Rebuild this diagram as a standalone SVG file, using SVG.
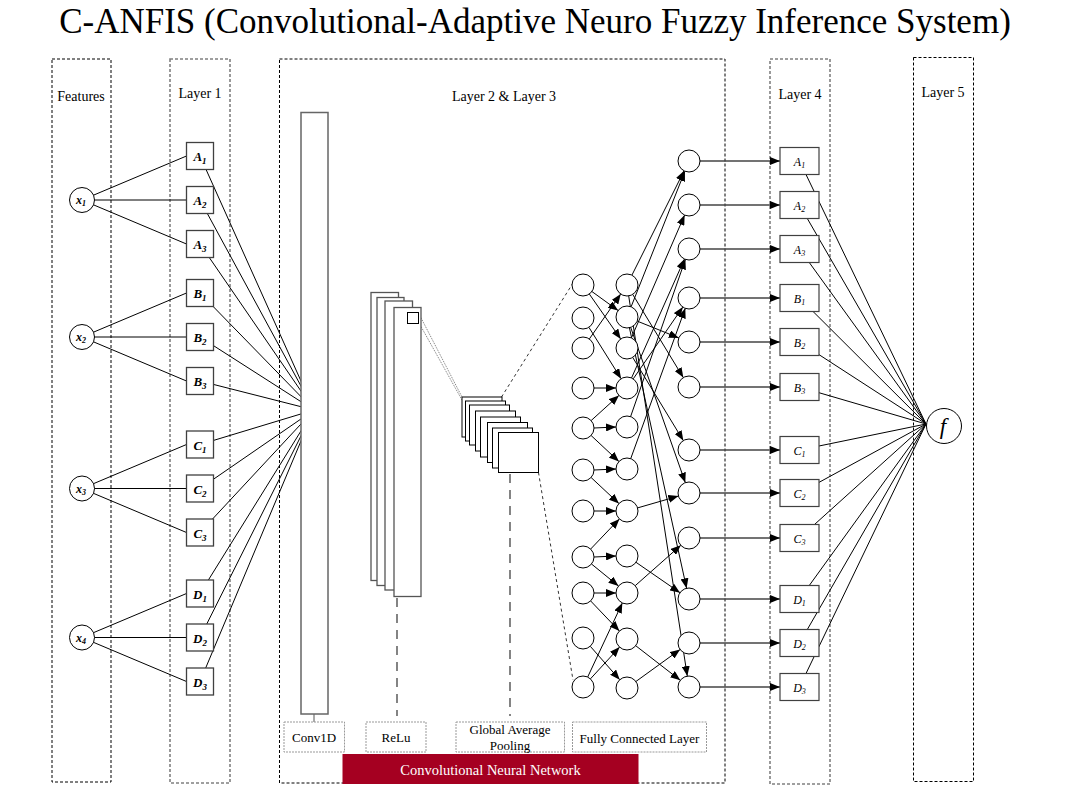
<svg xmlns="http://www.w3.org/2000/svg" width="1071" height="785" viewBox="0 0 1071 785">
<style>
.t{font-family:"Liberation Serif","Times New Roman",serif;fill:#000}
.db{fill:none;stroke:#000;stroke-width:1;stroke-dasharray:3 2}
.dg{fill:none;stroke:#808080;stroke-width:1.6;stroke-dasharray:3 2}
.bx{fill:#fff;stroke:#404040;stroke-width:1.3}
.bx4{fill:#fff;stroke:#404040;stroke-width:1.2}
.c{fill:#fff;stroke:#000;stroke-width:1}
.ln{stroke:#000;stroke-width:1;fill:none}
.ar{stroke:#000;stroke-width:1;fill:none;marker-end:url(#ah)}
.ar4{stroke:#444;stroke-width:1.3;fill:none;marker-end:url(#ah)}
.lb{fill:#fff;stroke:#999;stroke-width:1;stroke-dasharray:2 1}
.n1{font-family:"Liberation Serif","Times New Roman",serif;font-size:13px;font-weight:bold;font-style:italic;text-anchor:middle}
.n4{font-family:"Liberation Serif","Times New Roman",serif;font-size:12px;font-style:italic;text-anchor:middle}
.sb{font-size:9px}
.sb4{font-size:8px}
</style>
<defs>
<marker id="ah" markerWidth="10" markerHeight="8" refX="10" refY="4" orient="auto" markerUnits="userSpaceOnUse"><path d="M0,0 L10,4 L0,8 z" fill="#000"/></marker>
</defs>
<rect width="1071" height="785" fill="#fff"/>
<text class="t" x="535" y="33" font-size="35" text-anchor="middle">C-ANFIS (Convolutional-Adaptive Neuro Fuzzy Inference System)</text>

<g id="layer-frames">
<rect class="db" x="52" y="59" width="59" height="723"/>
<rect class="dg" x="170" y="59" width="60" height="724"/>
<rect class="db" x="279.5" y="59" width="445.5" height="724"/>
<rect class="dg" x="770" y="59" width="60" height="725"/>
<rect class="db" x="913.5" y="57.5" width="60" height="724"/>
<text class="t" x="81" y="101" font-size="14" text-anchor="middle">Features</text>
<text class="t" x="200" y="98" font-size="14" text-anchor="middle">Layer 1</text>
<text class="t" x="504" y="101" font-size="14" text-anchor="middle">Layer 2 &amp; Layer 3</text>
<text class="t" x="800" y="99" font-size="14" text-anchor="middle">Layer 4</text>
<text class="t" x="943" y="97" font-size="14" text-anchor="middle">Layer 5</text>
</g>

<g id="connectors">
<!-- features to layer 1 -->
<path class="ln" d="M82,200 L186.5,156 M82,200 L186.5,200 M82,200 L186.5,244"/>
<path class="ln" d="M82,337 L186.5,293 M82,337 L186.5,337 M82,337 L186.5,381"/>
<path class="ln" d="M82,488.5 L186.5,444.5 M82,488.5 L186.5,488.5 M82,488.5 L186.5,532.5"/>
<path class="ln" d="M82,637.5 L186.5,593.5 M82,637.5 L186.5,637.5 M82,637.5 L186.5,681.5"/>
<!-- layer 1 to conv1d -->
<path class="ln" d="M200,156 L314,410 M200,200 L314,410 M200,244 L314,410 M200,293 L314,410 M200,337 L314,410 M200,381 L314,410 M200,444.5 L314,410 M200,488.5 L314,410 M200,532.5 L314,410 M200,593.5 L314,410 M200,637.5 L314,410 M200,681.5 L314,410"/>
<!-- cnn links -->
<line x1="314" y1="714" x2="314" y2="722" stroke="#555" stroke-width="1"/>
<line x1="397" y1="598" x2="397" y2="716" stroke="#333" stroke-width="1.2" stroke-dasharray="9 7"/>
<line x1="510" y1="474" x2="510" y2="716" stroke="#333" stroke-width="1.2" stroke-dasharray="9 7"/>
<line x1="418.5" y1="313" x2="462" y2="397" stroke="#777" stroke-width="1" stroke-dasharray="1 1"/>
<line x1="418.5" y1="322" x2="462" y2="400" stroke="#777" stroke-width="1" stroke-dasharray="1 1"/>
<line x1="501.5" y1="397" x2="573" y2="283" stroke="#333" stroke-width="1" stroke-dasharray="3 3"/>
<line x1="538.5" y1="472.5" x2="573" y2="680" stroke="#333" stroke-width="1" stroke-dasharray="3 3"/>
<!-- col1 to col2 -->
<line class="ar" x1="591.9" y1="291.5" x2="618.1" y2="310.5"/>
<line class="ar" x1="589.3" y1="294" x2="620.7" y2="339"/>
<line class="ar" x1="589.3" y1="339" x2="620.7" y2="294"/>
<line class="ar" x1="588.9" y1="327.3" x2="621.1" y2="378.7"/>
<line class="ar" x1="594" y1="388" x2="616" y2="388"/>
<line class="ar" x1="591.1" y1="420.6" x2="618.9" y2="395.4"/>
<line class="ar" x1="594" y1="428" x2="616" y2="427"/>
<line class="ar" x1="591.1" y1="435.5" x2="618.9" y2="461.5"/>
<line class="ar" x1="594" y1="470" x2="616" y2="469"/>
<line class="ar" x1="591.1" y1="477.5" x2="618.9" y2="503.5"/>
<line class="ar" x1="594" y1="511" x2="616" y2="511"/>
<line class="ar" x1="590.6" y1="549.1" x2="619.4" y2="518.9"/>
<line class="ar" x1="594" y1="557" x2="616" y2="556"/>
<line class="ar" x1="591.5" y1="564" x2="618.5" y2="586"/>
<line class="ar" x1="594" y1="593" x2="616" y2="593"/>
<line class="ar" x1="590.6" y1="600.9" x2="619.4" y2="631.1"/>
<line class="ar" x1="590.3" y1="646.3" x2="619.7" y2="679.7"/>
<line class="ar" x1="587.7" y1="677" x2="622.3" y2="603"/>
<line class="ar" x1="590.4" y1="678.9" x2="619.6" y2="647.1"/>
<!-- col2 to col3 -->
<line class="ar" x1="631.9" y1="275.2" x2="684.1" y2="170.8"/>
<line class="ar" x1="631.1" y1="306.8" x2="684.9" y2="171.2"/>
<line class="ar" x1="631.4" y1="337.9" x2="684.6" y2="215.1"/>
<line class="ar" x1="631.5" y1="378" x2="684.5" y2="259"/>
<line class="ar" x1="630.6" y1="416.6" x2="685.4" y2="259.4"/>
<line class="ar" x1="633.2" y1="378.9" x2="682.8" y2="307.1"/>
<line class="ar" x1="630.7" y1="458.7" x2="685.3" y2="308.3"/>
<line class="ar" x1="632.7" y1="294.4" x2="683.3" y2="377.6"/>
<line class="ar" x1="637.2" y1="321.1" x2="678.8" y2="337.9"/>
<line class="ar" x1="632.7" y1="357.4" x2="683.3" y2="440.6"/>
<line class="ar" x1="630.7" y1="327.4" x2="685.3" y2="482.6"/>
<line class="ar" x1="629.4" y1="327.7" x2="686.6" y2="588.3"/>
<line class="ar" x1="628.7" y1="295.9" x2="687.3" y2="676.1"/>
<line class="ar" x1="637.6" y1="507.9" x2="678.4" y2="496.1"/>
<line class="ar" x1="636" y1="562.3" x2="680" y2="592.7"/>
<line class="ar" x1="635.2" y1="585.7" x2="680.8" y2="545.3"/>
<line class="ar" x1="635.7" y1="645.7" x2="680.3" y2="680.3"/>
<line class="ar" x1="635.9" y1="681.5" x2="680.1" y2="649.5"/>
<!-- col3 to layer 4 -->
<line class="ar4" x1="700" y1="161" x2="780" y2="161"/>
<line class="ar4" x1="700" y1="205" x2="780" y2="205"/>
<line class="ar4" x1="700" y1="249" x2="780" y2="249"/>
<line class="ar4" x1="700" y1="298" x2="780" y2="298"/>
<line class="ar4" x1="700" y1="342" x2="780" y2="342"/>
<line class="ar4" x1="700" y1="387" x2="780" y2="387"/>
<line class="ar4" x1="700" y1="450" x2="780" y2="450"/>
<line class="ar4" x1="700" y1="493" x2="780" y2="493"/>
<line class="ar4" x1="700" y1="538" x2="780" y2="538"/>
<line class="ar4" x1="700" y1="599" x2="780" y2="599"/>
<line class="ar4" x1="700" y1="643" x2="780" y2="643"/>
<line class="ar4" x1="700" y1="687" x2="780" y2="687"/>
<!-- layer 4 to f -->
<path class="ln" d="M799.5,161 L926,424 M799.5,205 L926,424 M799.5,249 L926,424 M799.5,298 L926,424 M799.5,342 L926,424 M799.5,387 L926,424 M799.5,450 L926,424 M799.5,493 L926,424 M799.5,538 L926,424 M799.5,599 L926,424 M799.5,643 L926,424 M799.5,687 L926,424"/>
</g>

<g id="features">
<g id="x1"><circle class="c" cx="82" cy="200" r="12.5"/><text class="n4" x="81" y="204" font-weight="bold">x<tspan class="sb4" dy="2">1</tspan></text></g>
<g id="x2"><circle class="c" cx="82" cy="337" r="12.5"/><text class="n4" x="81" y="341" font-weight="bold">x<tspan class="sb4" dy="2">2</tspan></text></g>
<g id="x3"><circle class="c" cx="82" cy="488.5" r="12.5"/><text class="n4" x="81" y="492.5" font-weight="bold">x<tspan class="sb4" dy="2">3</tspan></text></g>
<g id="x4"><circle class="c" cx="82" cy="637.5" r="12.5"/><text class="n4" x="81" y="641.5" font-weight="bold">x<tspan class="sb4" dy="2">4</tspan></text></g>
</g>

<g id="layer1">
<g id="L1-A1"><rect class="bx" x="186.5" y="142.5" width="27" height="27"/><text class="n1" x="200" y="161">A<tspan class="sb" dy="3">1</tspan></text></g>
<g id="L1-A2"><rect class="bx" x="186.5" y="186.5" width="27" height="27"/><text class="n1" x="200" y="205">A<tspan class="sb" dy="3">2</tspan></text></g>
<g id="L1-A3"><rect class="bx" x="186.5" y="230.5" width="27" height="27"/><text class="n1" x="200" y="249">A<tspan class="sb" dy="3">3</tspan></text></g>
<g id="L1-B1"><rect class="bx" x="186.5" y="279.5" width="27" height="27"/><text class="n1" x="200" y="298">B<tspan class="sb" dy="3">1</tspan></text></g>
<g id="L1-B2"><rect class="bx" x="186.5" y="323.5" width="27" height="27"/><text class="n1" x="200" y="342">B<tspan class="sb" dy="3">2</tspan></text></g>
<g id="L1-B3"><rect class="bx" x="186.5" y="367.5" width="27" height="27"/><text class="n1" x="200" y="386">B<tspan class="sb" dy="3">3</tspan></text></g>
<g id="L1-C1"><rect class="bx" x="186.5" y="431" width="27" height="27"/><text class="n1" x="200" y="449.5">C<tspan class="sb" dy="3">1</tspan></text></g>
<g id="L1-C2"><rect class="bx" x="186.5" y="475" width="27" height="27"/><text class="n1" x="200" y="493.5">C<tspan class="sb" dy="3">2</tspan></text></g>
<g id="L1-C3"><rect class="bx" x="186.5" y="519" width="27" height="27"/><text class="n1" x="200" y="537.5">C<tspan class="sb" dy="3">3</tspan></text></g>
<g id="L1-D1"><rect class="bx" x="186.5" y="580" width="27" height="27"/><text class="n1" x="200" y="598.5">D<tspan class="sb" dy="3">1</tspan></text></g>
<g id="L1-D2"><rect class="bx" x="186.5" y="624" width="27" height="27"/><text class="n1" x="200" y="642.5">D<tspan class="sb" dy="3">2</tspan></text></g>
<g id="L1-D3"><rect class="bx" x="186.5" y="668" width="27" height="27"/><text class="n1" x="200" y="686.5">D<tspan class="sb" dy="3">3</tspan></text></g>
</g>

<g id="conv1d"><rect x="301" y="112.5" width="27" height="601.5" fill="#fff" stroke="#666" stroke-width="1.5"/></g>

<g id="relu">
<rect x="371" y="292.5" width="27.5" height="288" fill="#fff" stroke="#555" stroke-width="1.3"/>
<rect x="377" y="297.5" width="27" height="288" fill="#fff" stroke="#555" stroke-width="1.3"/>
<rect x="385" y="301" width="27.5" height="289" fill="#fff" stroke="#555" stroke-width="1.3"/>
<rect x="394" y="307.5" width="27" height="289" fill="#fff" stroke="#555" stroke-width="1.3"/>
<rect x="407.5" y="312.5" width="11" height="11" fill="#fff" stroke="#000" stroke-width="1"/>
</g>

<g id="pooling" fill="#fff" stroke="#000" stroke-width="1">
<rect x="462" y="397" width="40" height="40"/>
<rect x="465.5" y="401" width="40" height="40"/>
<rect x="469.5" y="405" width="40" height="40"/>
<rect x="475.5" y="411" width="40" height="40"/>
<rect x="480.5" y="417" width="40" height="40"/>
<rect x="487.5" y="422.5" width="40" height="40"/>
<rect x="492.5" y="428" width="40" height="40"/>
<rect x="498.5" y="432.5" width="40" height="40"/>
</g>

<g id="fc-col1">
<circle class="c" cx="583" cy="285" r="11"/><circle class="c" cx="583" cy="318" r="11"/><circle class="c" cx="583" cy="348" r="11"/><circle class="c" cx="583" cy="388" r="11"/><circle class="c" cx="583" cy="428" r="11"/><circle class="c" cx="583" cy="470" r="11"/><circle class="c" cx="583" cy="511" r="11"/><circle class="c" cx="583" cy="557" r="11"/><circle class="c" cx="583" cy="593" r="11"/><circle class="c" cx="583" cy="638" r="11"/><circle class="c" cx="583" cy="687" r="11"/>
</g>
<g id="fc-col2">
<circle class="c" cx="627" cy="285" r="11"/><circle class="c" cx="627" cy="317" r="11"/><circle class="c" cx="627" cy="348" r="11"/><circle class="c" cx="627" cy="388" r="11"/><circle class="c" cx="627" cy="427" r="11"/><circle class="c" cx="627" cy="469" r="11"/><circle class="c" cx="627" cy="511" r="11"/><circle class="c" cx="627" cy="556" r="11"/><circle class="c" cx="627" cy="593" r="11"/><circle class="c" cx="627" cy="639" r="11"/><circle class="c" cx="627" cy="688" r="11"/>
</g>
<g id="fc-col3">
<circle class="c" cx="689" cy="161" r="11"/><circle class="c" cx="689" cy="205" r="11"/><circle class="c" cx="689" cy="249" r="11"/><circle class="c" cx="689" cy="298" r="11"/><circle class="c" cx="689" cy="342" r="11"/><circle class="c" cx="689" cy="387" r="11"/><circle class="c" cx="689" cy="450" r="11"/><circle class="c" cx="689" cy="493" r="11"/><circle class="c" cx="689" cy="538" r="11"/><circle class="c" cx="689" cy="599" r="11"/><circle class="c" cx="689" cy="643" r="11"/><circle class="c" cx="689" cy="687" r="11"/>
</g>

<g id="layer4">
<g id="L4-A1"><rect class="bx4" x="780" y="147.5" width="39" height="27"/><text class="n4" x="799.5" y="165.5">A<tspan class="sb4" dy="2">1</tspan></text></g>
<g id="L4-A2"><rect class="bx4" x="780" y="191.5" width="39" height="27"/><text class="n4" x="799.5" y="209.5">A<tspan class="sb4" dy="2">2</tspan></text></g>
<g id="L4-A3"><rect class="bx4" x="780" y="235.5" width="39" height="27"/><text class="n4" x="799.5" y="253.5">A<tspan class="sb4" dy="2">3</tspan></text></g>
<g id="L4-B1"><rect class="bx4" x="780" y="284.5" width="39" height="27"/><text class="n4" x="799.5" y="302.5">B<tspan class="sb4" dy="2">1</tspan></text></g>
<g id="L4-B2"><rect class="bx4" x="780" y="328.5" width="39" height="27"/><text class="n4" x="799.5" y="346.5">B<tspan class="sb4" dy="2">2</tspan></text></g>
<g id="L4-B3"><rect class="bx4" x="780" y="373.5" width="39" height="27"/><text class="n4" x="799.5" y="391.5">B<tspan class="sb4" dy="2">3</tspan></text></g>
<g id="L4-C1"><rect class="bx4" x="780" y="436.5" width="39" height="27"/><text class="n4" x="799.5" y="454.5">C<tspan class="sb4" dy="2">1</tspan></text></g>
<g id="L4-C2"><rect class="bx4" x="780" y="479.5" width="39" height="27"/><text class="n4" x="799.5" y="497.5">C<tspan class="sb4" dy="2">2</tspan></text></g>
<g id="L4-C3"><rect class="bx4" x="780" y="524.5" width="39" height="27"/><text class="n4" x="799.5" y="542.5">C<tspan class="sb4" dy="2">3</tspan></text></g>
<g id="L4-D1"><rect class="bx4" x="780" y="585.5" width="39" height="27"/><text class="n4" x="799.5" y="603.5">D<tspan class="sb4" dy="2">1</tspan></text></g>
<g id="L4-D2"><rect class="bx4" x="780" y="629.5" width="39" height="27"/><text class="n4" x="799.5" y="647.5">D<tspan class="sb4" dy="2">2</tspan></text></g>
<g id="L4-D3"><rect class="bx4" x="780" y="673.5" width="39" height="27"/><text class="n4" x="799.5" y="691.5">D<tspan class="sb4" dy="2">3</tspan></text></g>
</g>

<g id="layer5-f"><circle class="c" cx="944" cy="426" r="17.5"/><text class="t" x="943" y="434" font-size="23" font-style="italic" text-anchor="middle">f</text></g>

<g id="labels">
<g id="lbl-conv1d"><rect class="lb" x="284" y="722" width="60.5" height="30"/><text class="t" x="314" y="742" font-size="13" text-anchor="middle">Conv1D</text></g>
<g id="lbl-relu"><rect class="lb" x="366" y="722" width="60" height="30"/><text class="t" x="396" y="742" font-size="13" text-anchor="middle">ReLu</text></g>
<g id="lbl-gap"><rect class="lb" x="456" y="722" width="108.5" height="30"/><text class="t" x="510" y="734" font-size="13" text-anchor="middle">Global Average</text><text class="t" x="510" y="750" font-size="13" text-anchor="middle">Pooling</text></g>
<g id="lbl-fc"><rect class="lb" x="572.5" y="722" width="134" height="30"/><text class="t" x="639.5" y="742.5" font-size="13" text-anchor="middle">Fully Connected Layer</text></g>
<g id="lbl-cnn"><rect x="342.5" y="754" width="296" height="30" fill="#a50021"/><text x="490.5" y="774.5" font-family="Liberation Serif,Times New Roman,serif" font-size="14.5" fill="#fff" text-anchor="middle">Convolutional Neural Network</text></g>
</g>
</svg>
